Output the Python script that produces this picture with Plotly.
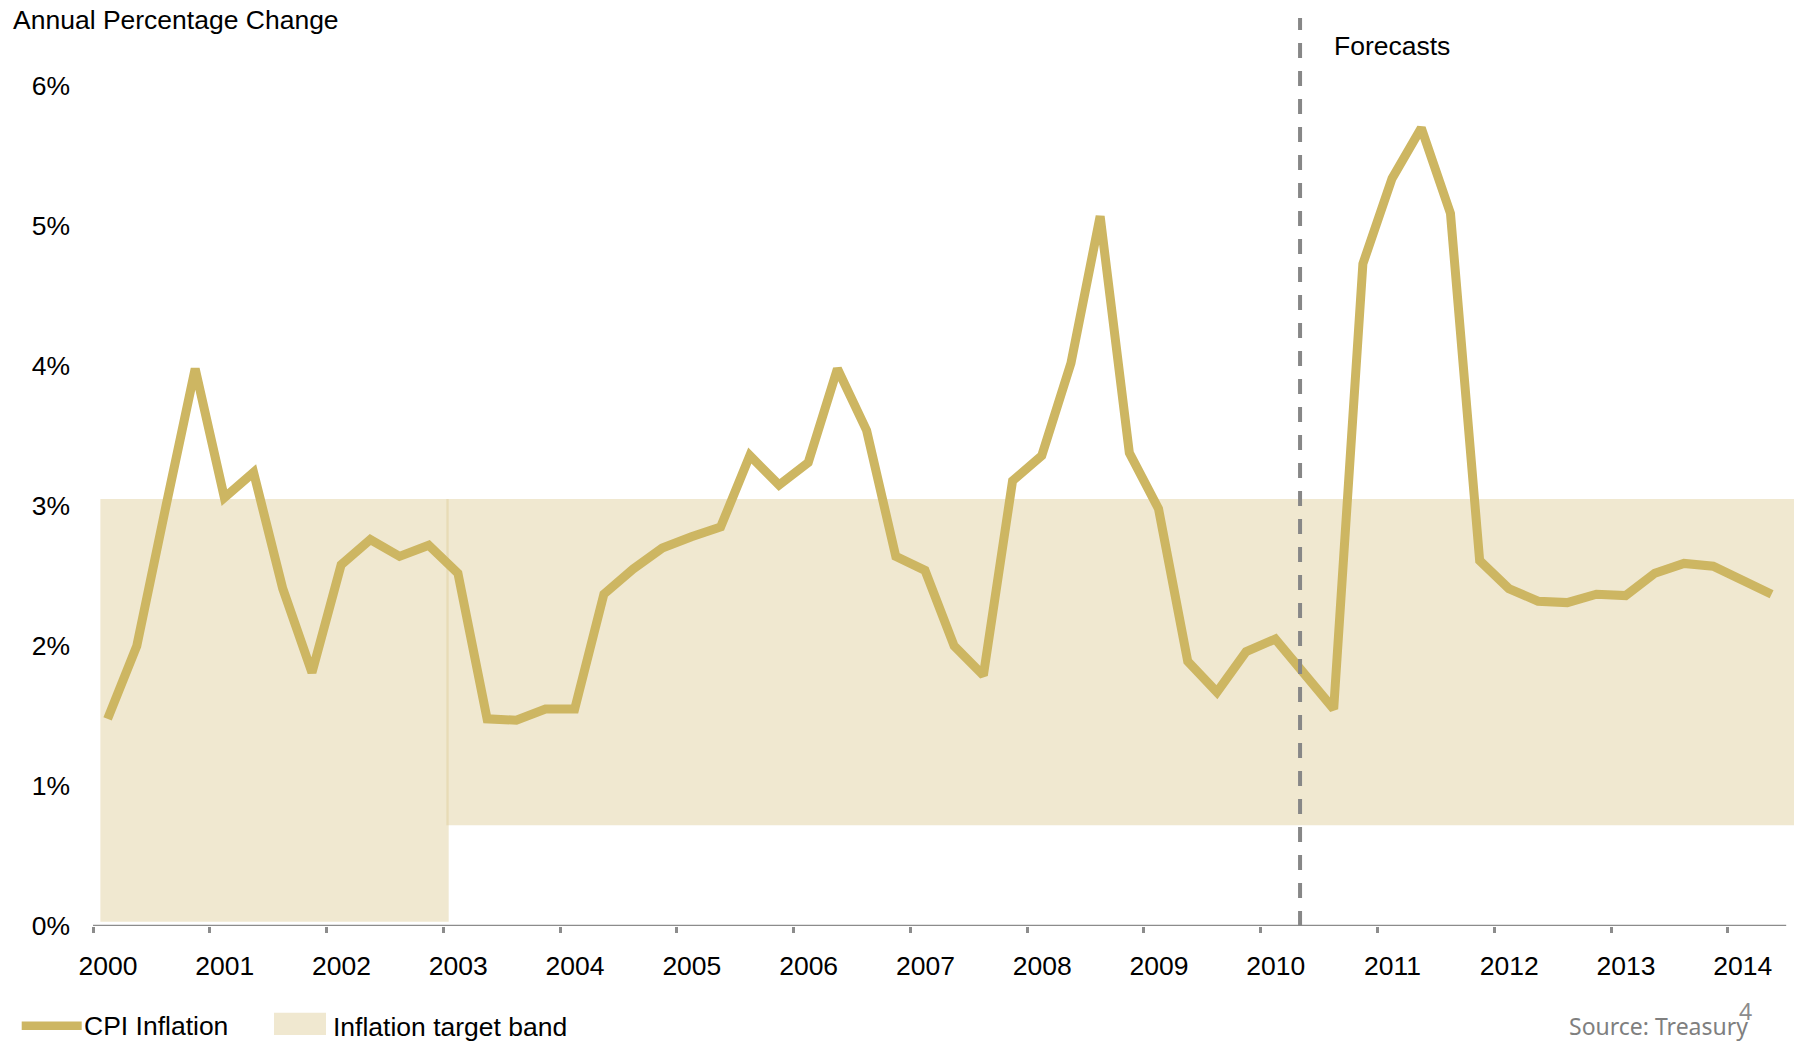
import plotly.graph_objects as go

# ---------------- data ----------------
years = list(range(2000, 2015))
year_labels = [str(y) for y in years]
y_ticks = [0, 1, 2, 3, 4, 5, 6]
y_tick_labels = ["0%", "1%", "2%", "3%", "4%", "5%", "6%"]

# quarterly CPI inflation, % (2000 Q1 .. 2014 Q2)
cpi_inflation = [
    1.48, 2.00, 3.00, 3.98,
    3.06, 3.24, 2.41, 1.81,
    2.58, 2.76, 2.64, 2.72,
    2.52, 1.48, 1.47, 1.55,
    1.55, 2.37, 2.55, 2.70,
    2.78, 2.85, 3.36, 3.15,
    3.31, 3.98, 3.54, 2.64,
    2.54, 2.00, 1.79, 3.18,
    3.36, 4.02, 5.07, 3.38,
    2.98, 1.89, 1.67, 1.96,
    2.05, 1.80, 1.55, 4.73,
    5.34, 5.70, 5.09, 2.61,
    2.41, 2.32, 2.31, 2.37,
    2.36, 2.52, 2.59, 2.57,
    2.47, 2.37,
]
quarters = [f"{2000 + i // 4}Q{i % 4 + 1}" for i in range(len(cpi_inflation))]
# quarter midpoints on a continuous year axis
quarter_x = [int(q[:4]) + (int(q[-1]) - 0.5) / 4 for q in quarters]

# inflation target band segments
band_start = [2000.063, 2003.026]
band_end = [2003.046, 2014.567]
band_low = [0.03, 0.72]
band_high = [3.05, 3.05]

forecast_start = 2010.337

# ---------------- styling ----------------
W, H = 1797, 1044
PL, PR, PT, PB = 93, 1794, 16, 926  # plot area in pixels
X_RANGE = [2000, 2014.567]
Y_RANGE = [0, 6.5]
GOLD = "#CDB662"
BAND_FILL = "rgba(222,205,150,0.45)"
FONT = "Liberation Sans, Arial, sans-serif"
FS = 26.5


def px(x):
    return (x - PL) / (PR - PL)


def py(y):
    return (PB - y) / (PB - PT)


fig = go.Figure()

for s, e, lo, hi in zip(band_start, band_end, band_low, band_high):
    fig.add_trace(go.Scatter(
        x=[s, e, e, s, s], y=[lo, lo, hi, hi, lo],
        mode="none", fill="toself", fillcolor=BAND_FILL,
        hoverinfo="skip", showlegend=False,
    ))

fig.add_trace(go.Scatter(
    x=quarter_x, y=cpi_inflation, mode="lines",
    line=dict(color=GOLD, width=9),
    showlegend=False, name="CPI Inflation",
))

shapes = [
    # x axis line
    dict(type="line", xref="x", yref="y", x0=2000, x1=2014.5, y0=0, y1=0,
         line=dict(color="#8C8C8C", width=2.5), layer="above"),
    # forecast divider
    dict(type="line", xref="x", yref="y", x0=forecast_start, x1=forecast_start,
         y0=0, y1=6.486, line=dict(color="#878787", width=4, dash="15px,13px"),
         layer="above"),
    # legend: line sample
    dict(type="line", xref="paper", yref="paper", x0=px(21.7), x1=px(81.7),
         y0=py(1025.7), y1=py(1025.7), line=dict(color=GOLD, width=8.5)),
    # legend: band sample
    dict(type="rect", xref="paper", yref="paper", x0=px(274), x1=px(326),
         y0=py(1035), y1=py(1012.7), fillcolor=BAND_FILL, line=dict(width=0)),
]

annotations = [
    dict(text="Annual Percentage Change", x=px(11), y=py(20), xref="paper", yref="paper",
         xanchor="left", yanchor="middle", showarrow=False,
         font=dict(family=FONT, size=FS, color="#000000")),
    dict(text="Forecasts", x=px(1332), y=py(46), xref="paper", yref="paper",
         xanchor="left", yanchor="middle", showarrow=False,
         font=dict(family=FONT, size=FS, color="#000000")),
    dict(text="CPI Inflation", x=px(82), y=py(1026), xref="paper", yref="paper",
         xanchor="left", yanchor="middle", showarrow=False,
         font=dict(family=FONT, size=FS, color="#000000")),
    dict(text="Inflation target band", x=px(331), y=py(1027), xref="paper", yref="paper",
         xanchor="left", yanchor="middle", showarrow=False,
         font=dict(family=FONT, size=FS, color="#000000")),
    dict(text="Source: Treasury", x=px(1567), y=py(1026), xref="paper", yref="paper",
         xanchor="left", yanchor="middle", showarrow=False,
         font=dict(family="Noto Sans, sans-serif", size=23, color="#7F7F7F")),
    dict(text="4", x=px(1737), y=py(1011), xref="paper", yref="paper",
         xanchor="left", yanchor="middle", showarrow=False,
         font=dict(family="Noto Sans, sans-serif", size=23, color="#8C8C8C")),
]

fig.update_layout(
    width=W, height=H,
    margin=dict(l=PL, r=W - PR, t=PT, b=H - PB, pad=0, autoexpand=False),
    paper_bgcolor="white", plot_bgcolor="white",
    font=dict(family=FONT, size=FS, color="#000000"),
    showlegend=False,
    shapes=shapes, annotations=annotations,
    xaxis=dict(
        range=X_RANGE, tickmode="array", tickvals=years, ticktext=year_labels,
        ticks="outside", ticklen=6, tickwidth=2.5, tickcolor="#8C8C8C",
        ticklabelshift=15, ticklabelstandoff=10,
        showgrid=False, zeroline=False, showline=False,
        tickfont=dict(family=FONT, size=FS, color="#000000"),
    ),
    yaxis=dict(
        range=Y_RANGE, tickmode="array", tickvals=y_ticks, ticktext=y_tick_labels,
        ticks="", ticklabelstandoff=22,
        showgrid=False, zeroline=False, showline=False,
        tickfont=dict(family=FONT, size=FS, color="#000000"),
    ),
)

fig.write_html(
    "out.html",
    config={"displayModeBar": False},
    post_script="document.body.style.margin='0';",
)
